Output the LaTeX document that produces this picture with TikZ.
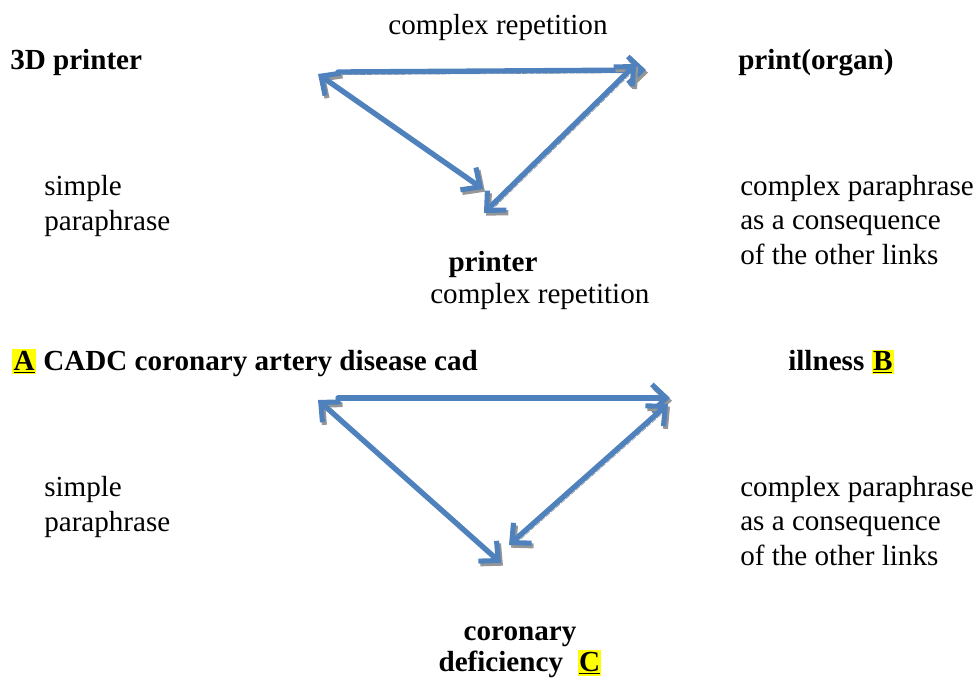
\documentclass[tikz,border=0pt]{standalone}
\usepackage{fontspec}
\setmainfont{Liberation Serif}
\usepackage{xcolor}
\definecolor{arrowblue}{RGB}{79,129,189}
\definecolor{shadowgray}{RGB}{150,150,150}
\definecolor{hlyellow}{RGB}{255,255,0}
\usetikzlibrary{arrows.meta,positioning}
\newcommand{\hlletter}[1]{{\setlength{\fboxsep}{1pt}\colorbox{hlyellow}{\underline{#1}}}}

\begin{document}
\begin{tikzpicture}[x=0.025cm, y=-0.025cm,
  word/.style={inner sep=0pt, font=\fontsize{20.7}{24.3}\selectfont, align=left, anchor=base west},
  term/.style={word, font=\fontsize{20.7}{24.3}\selectfont\bfseries},
  link/.style={line width=3.8pt, draw=arrowblue, line cap=round,
               arrows={-Straight Barb[length=0.36cm, width=0.68cm, line width=3.6pt]},
               preaction={draw=shadowgray, densely dotted,
                          transform canvas={shift={(1.4pt,-1.9pt)}}}},
  twoway/.style={link, arrows={Straight Barb[length=0.36cm, width=0.68cm, line width=3.6pt]-Straight Barb[length=0.36cm, width=0.68cm, line width=3.6pt]}}
]
\useasboundingbox (0,0) rectangle (978,679);

% upper triangle
\node[word, anchor=base] (rep1) at (498,34) {complex repetition};
\node[term] (printer3d) at (10,69) {3D printer};
\node[term] (organ) at (738,69) {print(organ)};
\node[word] (simple1) at (44,230) {simple\\paraphrase};
\node[word] (cplx1) at (740,264) {complex paraphrase\\as a consequence\\of the other links};
\node[term, anchor=base] (printer) at (493,271) {printer};
\node[word] (rep2) at (430,303) {complex repetition};

\coordinate (ua) at (338,72);
\coordinate (ub) at (646,70);
\coordinate (uc) at (318,74);
\coordinate (ud) at (483,189);
\coordinate (ue) at (484,213);
\coordinate (uf) at (636,64);

\draw[link] (ua) -- (ub);
\draw[twoway] (uc) -- (ud);
\draw[twoway] (ue) -- (uf);

% lower triangle
\node[term] (cadc) at (12,370) {\hlletter{A} CADC coronary artery disease cad};
\node[term] (illness) at (788,370) {illness \hlletter{B}};
\node[word] (simple2) at (44,531) {simple\\paraphrase};
\node[word] (cplx2) at (740,565) {complex paraphrase\\as a consequence\\of the other links};
\node[term, anchor=base, align=center] (coronary) at (520,671) {coronary\\[-2.8pt]deficiency~~\hlletter{C}};

\coordinate (la) at (338,398);
\coordinate (lb) at (670,398);
\coordinate (lc) at (318,400);
\coordinate (ld) at (501,563);
\coordinate (le) at (509,545);
\coordinate (lf) at (668,404);

\draw[link] (la) -- (lb);
\draw[twoway] (lc) -- (ld);
\draw[twoway] (le) -- (lf);
\end{tikzpicture}
\end{document}
